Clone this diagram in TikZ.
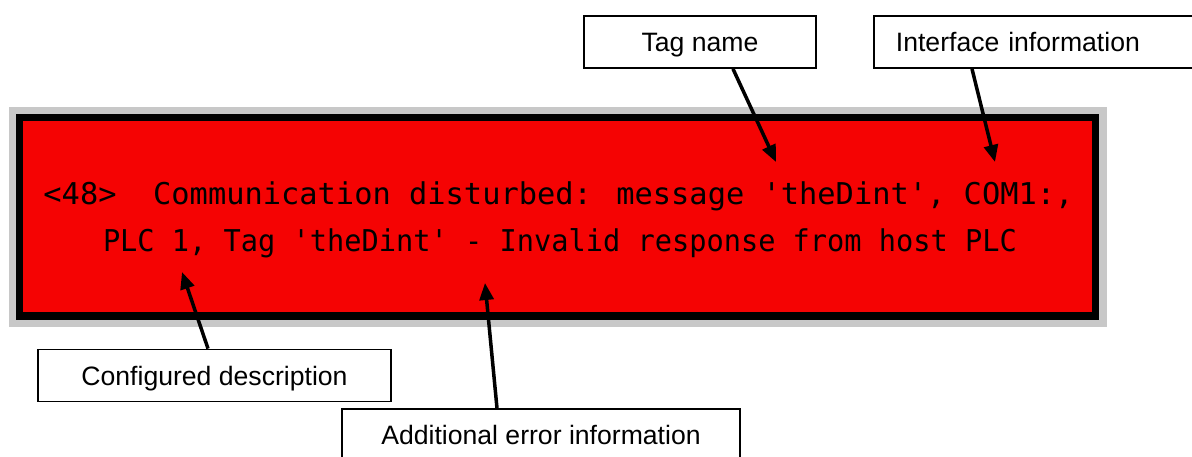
\documentclass[tikz,border=0pt]{standalone}
\usepackage{fontspec}
\setmainfont{Liberation Sans}
\newfontfamily\lcdfont{DejaVu Sans Mono}
\usetikzlibrary{arrows.meta}
\definecolor{panelred}{RGB}{245,3,3}
\definecolor{framegrey}{RGB}{200,200,200}
\tikzset{
  labelbox/.style={draw=black, line width=1.8pt, fill=white,
    font=\fontsize{26.6}{30}\selectfont, inner sep=0pt, minimum height=52pt,
    text height=19pt, text depth=0pt},
  pointer/.style={line width=3.5pt, -{Triangle[length=17pt,width=14pt]}},
  lcd/.style={font=\lcdfont\fontsize{30}{34}\selectfont, text=black,
    inner sep=0pt, anchor=base},
}
\begin{document}
\begin{tikzpicture}[x=1pt,y=-1pt]
\clip (0,0) rectangle (1192,457);
\fill[white] (0,0) rectangle (1192,457);
% display panel
\fill[framegrey] (9,107) rectangle (1107,327);
\fill[black] (16,114) rectangle (1099,320);
\fill[panelred] (23,121) rectangle (1092,312);
% message text
\node[lcd] (line1) at (558.5,205)
  {\resizebox{1030pt}{\height}{<48>\ \ Communication disturbed: message \textquotesingle theDint\textquotesingle, COM1:,}};
\node[lcd] (line2) at (560,252)
  {\resizebox{914pt}{\height}{PLC 1, Tag \textquotesingle theDint\textquotesingle\ - Invalid response from host PLC}};
% label boxes
\node[labelbox, minimum width=232pt] (tag) at (700,42) {Tag name};
\node[labelbox, anchor=west, inner xsep=22pt, text width=320pt, align=left] (iface) at (873,42) {Interface information};
\node[labelbox, minimum width=353pt] (conf) at (214.5,375.5) {Configured description};
\node[labelbox, minimum width=398pt] (add) at (541,435) {Additional error information};
% arrow tips
\coordinate (tagtip) at (776,162);
\coordinate (ifacetip) at (995,162);
\coordinate (conftip) at (182,272);
\coordinate (addtip) at (485,283);
% pointers
\draw[pointer] ([xshift=33pt]tag.south) -- (tagtip);
\draw[pointer] ([xshift=99pt]iface.south west) -- (ifacetip);
\draw[pointer] ([xshift=-6.5pt]conf.north) -- (conftip);
\draw[pointer] ([xshift=-44pt]add.north) -- (addtip);
\end{tikzpicture}
\end{document}
